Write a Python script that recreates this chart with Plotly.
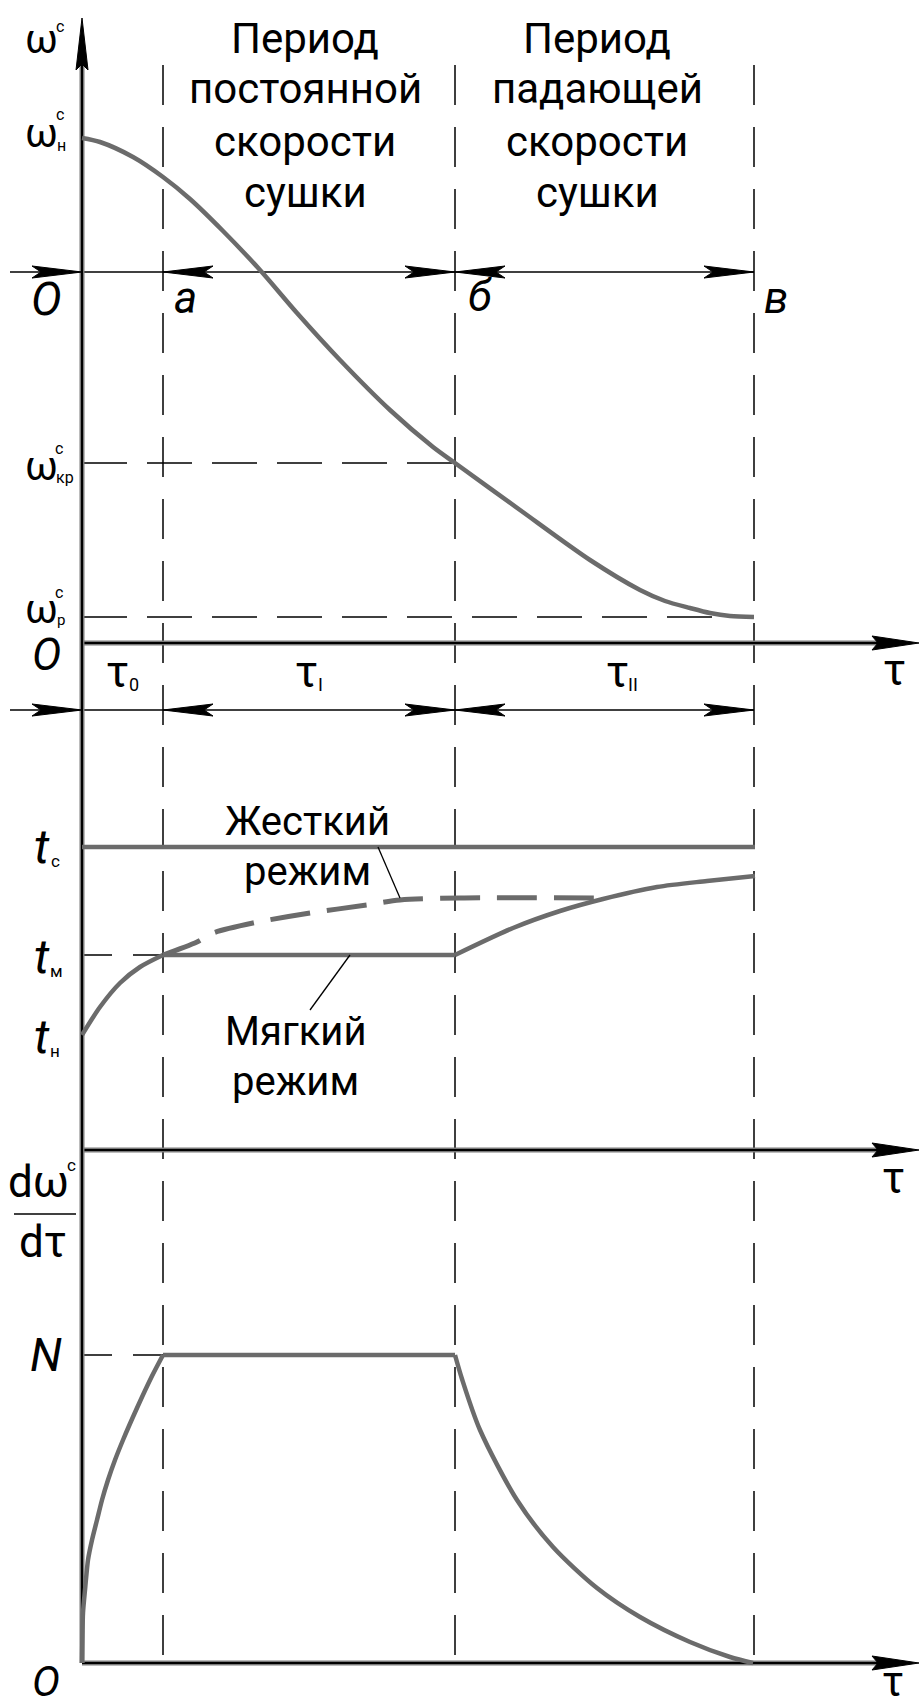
import plotly.graph_objects as go

# ---------------- data ----------------
# characteristic moments on the time axis (tau units)
tau_marks = [0.0, 8.1, 37.3, 67.2]          # О, а, б, в
point_labels = ["О", "а", "б", "в"]
period_labels = ["τ", "τ", "τ"]
period_subs = ["0", "I", "II"]

# moisture content curve  ω^c(τ)
omega_tau = [0, 1.8, 5.1, 8.1, 10.8, 14.1, 17.8, 21.5, 25.8, 30.8, 35.1, 37.3,
             43.8, 50.8, 55.8, 58.3, 60.8, 62.8, 64.8, 67.2]
omega_val = [50.5, 50.1, 48.6, 46.6, 44.4, 41.2, 37.3, 33.0, 28.3, 23.3, 19.6, 18.0,
             13.3, 8.3, 5.3, 4.2, 3.5, 3.0, 2.7, 2.6]
omega_n, omega_kr, omega_r = 50.5, 18.0, 2.6

# temperature curves t(τ)
t_c, t_m, t_n = 30.3, 19.5, 11.5
hard_tau = [0, 67.3]
hard_t = [30.3, 30.3]
soft_rise_tau = [0, 1.8, 3.8, 5.8, 8.1]
soft_rise_t = [11.5, 14.3, 16.7, 18.3, 19.5]
soft_flat_tau = [8.1, 37.3]
soft_flat_t = [19.5, 19.5]
soft_fall_tau = [37.3, 43.1, 47.8, 52.1, 57.5, 62.5, 67.3]
soft_fall_t = [19.5, 22.2, 23.9, 25.1, 26.3, 26.9, 27.4]
hard_dash_tau = [8.1, 11.5, 13.1, 17.1, 22.8, 28.5, 31.8, 37.8, 52.1]
hard_dash_t = [19.5, 20.8, 21.7, 22.7, 23.7, 24.5, 25.0, 25.2, 25.2]

# drying rate dω^c/dτ
N_val = 30.8
rate_rise_tau = [0, 0.1, 0.3, 0.6, 1.0, 1.5, 2.0, 2.6, 3.3, 4.1, 5.5, 7.0, 8.1]
rate_rise = [0, 5.0, 7.3, 10.3, 12.3, 14.3, 16.3, 18.3, 20.3, 22.3, 25.5, 28.7, 30.8]
rate_flat_tau = [8.1, 37.3]
rate_flat = [30.8, 30.8]
rate_fall_tau = [37.3, 38.0, 39.8, 43.5, 47.1, 51.5, 55.8, 60.8, 64.8, 67.1]
rate_fall = [30.8, 28.4, 23.3, 16.3, 11.6, 7.5, 4.6, 2.1, 0.6, 0.0]

# ---------------- layout helpers ----------------
W, H = 920, 1705
PPU = 10.0          # pixels per unit on both axes
ORIGIN_PX = 82
FONT = "Roboto, Liberation Sans, sans-serif"
CURVE = "#6b6b6b"


def X(px):
    return (px - ORIGIN_PX) / PPU


def Y(py):
    return (H - py) / PPU


OFF_W = Y(643)    # zero of ω panel
OFF_T = Y(1150)   # zero of t panel
OFF_R = Y(1663)   # zero of rate panel

fig = go.Figure()


def line(xs, ys, color="black", width=1.5, dash=None, shape="linear", smoothing=1.0):
    fig.add_trace(go.Scatter(x=list(xs), y=list(ys), mode="lines",
                             line=dict(color=color, width=width, dash=dash, shape=shape,
                                       smoothing=smoothing),
                             hoverinfo="skip", showlegend=False))


shapes = []


def arrow(xt, yt, dx, dy, L=5.0, hw=0.6, notch=0.9):
    bx, by = xt - dx * L, yt - dy * L
    nx, ny = -dy, dx
    p1 = (bx + nx * hw, by + ny * hw)
    p2 = (xt - dx * (L - notch), yt - dy * (L - notch))
    p3 = (bx - nx * hw, by - ny * hw)
    path = (f"M {xt:.3f},{yt:.3f} L {p1[0]:.3f},{p1[1]:.3f} "
            f"L {p2[0]:.3f},{p2[1]:.3f} L {p3[0]:.3f},{p3[1]:.3f} Z")
    shapes.append(dict(type="path", path=path, xref="x", yref="y",
                       fillcolor="black", line=dict(color="black", width=1)))


ann = []


def txt(s, xpx, ypx, size, italic=False):
    if italic:
        s = f"<i>{s}</i>"
    ann.append(dict(text=s, x=X(xpx), y=Y(ypx), xref="x", yref="y", showarrow=False,
                    xanchor="center", yanchor="middle",
                    font=dict(family=FONT, size=size, color="black")))


tau_a, tau_b, tau_v = tau_marks[1], tau_marks[2], tau_marks[3]

# ---------------- guide lines ----------------
for tx in tau_marks[1:]:
    line([tx, tx], [Y(65), OFF_R], width=1.5, dash="40px,22px")

line([0, tau_b], [OFF_W + omega_kr] * 2, width=1.5, dash="45px,20px")
line([0, tau_v], [OFF_W + omega_r] * 2, width=1.5, dash="45px,20px")
line([0, tau_a], [OFF_T + t_m] * 2, width=1.5, dash="30px,21px")
line([0, tau_a], [OFF_R + N_val] * 2, width=1.5, dash="30px,21px")

# dimension lines
dim_top = Y(272)
dim_mid = Y(710)
for yd in (dim_top, dim_mid):
    line([X(10), tau_v], [yd, yd], width=1.5)
    arrow(0, yd, 1, 0)
    arrow(tau_a, yd, -1, 0)
    arrow(tau_b, yd, 1, 0)
    arrow(tau_b, yd, -1, 0)
    arrow(tau_v, yd, 1, 0)

# ---------------- axes ----------------
x_end = X(919)
for off in (OFF_W, OFF_T, OFF_R):
    line([0, x_end - 2], [off, off], color="#7a7a7a", width=5)
    line([0, x_end - 2], [off, off], color="black", width=2)
    arrow(x_end, off, 1, 0, L=4.7, hw=0.7, notch=0.6)
line([0, 0], [OFF_R, Y(60)], color="#7a7a7a", width=5)
line([0, 0], [OFF_R, Y(60)], color="black", width=2)
arrow(0, Y(18), 0, 1, L=5.2, hw=0.6, notch=0.6)

# ---------------- curves ----------------
line(omega_tau, [OFF_W + v for v in omega_val], color=CURVE, width=4.5, shape="spline",
     smoothing=0.8)

line(hard_tau, [OFF_T + v for v in hard_t], color=CURVE, width=4.5)
line(soft_rise_tau, [OFF_T + v for v in soft_rise_t], color=CURVE, width=4.5,
     shape="spline", smoothing=0.8)
line(soft_flat_tau, [OFF_T + v for v in soft_flat_t], color=CURVE, width=4.5)
line(soft_fall_tau, [OFF_T + v for v in soft_fall_t], color=CURVE, width=4.5,
     shape="spline", smoothing=0.8)
line(hard_dash_tau, [OFF_T + v for v in hard_dash_t], color=CURVE, width=5,
     dash="40px,17px", shape="spline", smoothing=0.8)

line(rate_rise_tau, [OFF_R + v for v in rate_rise], color=CURVE, width=4.5,
     shape="spline", smoothing=0.6)
line(rate_flat_tau, [OFF_R + v for v in rate_flat], color=CURVE, width=4.5)
line(rate_fall_tau, [OFF_R + v for v in rate_fall], color=CURVE, width=4.5,
     shape="spline", smoothing=0.8)

# leader lines
line([X(378), X(400)], [OFF_T + t_c, Y(898)], width=1.3)
line([X(350), X(310)], [OFF_T + t_m, Y(1010)], width=1.3)
# fraction bar of dω/dτ
line([X(14), X(76)], [Y(1214), Y(1214)], width=1.5)

# ---------------- texts ----------------
HS = 42
rows = [38.6, 88.6, 141.6, 192.6]
for i, s in enumerate(["Период", "постоянной", "скорости", "сушки"]):
    txt(s, 305, rows[i], HS)
for i, s in enumerate(["Период", "падающей", "скорости", "сушки"]):
    txt(s, 597, rows[i], HS)

txt("Жесткий", 307, 821, 40)
txt("режим", 307, 871, 40)
txt("Мягкий", 295, 1031, 40)
txt("режим", 295, 1081, 40)

# ω labels
txt("ω", 41, 39, 40); txt("c", 60, 26, 16)
txt("ω", 41, 133, 40); txt("c", 60, 114, 16); txt("н", 61, 145, 16)
txt("ω", 41, 466, 40); txt("c", 59, 448, 16); txt("кр", 65, 477, 16)
txt("ω", 41, 609, 40); txt("c", 59, 592, 16); txt("р", 61, 620, 15)

# point labels
txt(point_labels[0], 46, 299, 46, italic=True)
txt(point_labels[1], 185, 298, 44, italic=True)
txt(point_labels[2], 480, 296, 44, italic=True)
txt(point_labels[3], 776, 298, 44, italic=True)
txt(point_labels[0], 46, 655, 44, italic=True)
txt(point_labels[0], 46, 1681, 42, italic=True)

# period labels
for xc, s, sub, xs in [(117, period_labels[0], period_subs[0], 134),
                       (306, period_labels[1], period_subs[1], 320),
                       (617, period_labels[2], period_subs[2], 633)]:
    txt(s, xc, 672, 44)
    txt(sub, xs, 684, 18)

# axis τ labels
txt("τ", 894, 670, 44)
txt("τ", 893, 1178, 44)
txt("τ", 893, 1681, 42)

# t labels
txt("t", 42, 846, 48, italic=True); txt("c", 55, 861, 17)
txt("t", 42, 956, 48, italic=True); txt("м", 56, 971, 17)
txt("t", 42, 1036, 48, italic=True); txt("н", 55, 1051, 17)

# dω/dτ and N
txt("dω", 38, 1182, 44); txt("c", 71, 1165, 17)
txt("dτ", 43, 1242, 44)
txt("N", 46, 1355, 46, italic=True)

fig.update_layout(
    width=W, height=H, autosize=False,
    margin=dict(l=0, r=0, t=0, b=0, pad=0),
    paper_bgcolor="white", plot_bgcolor="white",
    xaxis=dict(range=[X(0), X(W)], visible=False, fixedrange=True),
    yaxis=dict(range=[Y(H), Y(0)], visible=False, fixedrange=True),
    shapes=shapes, annotations=ann, showlegend=False,
)

fig.write_html("out.html",
               config={"displayModeBar": False, "staticPlot": True},
               post_script="document.body.style.margin='0';"
                           "document.body.style.overflow='hidden';")
